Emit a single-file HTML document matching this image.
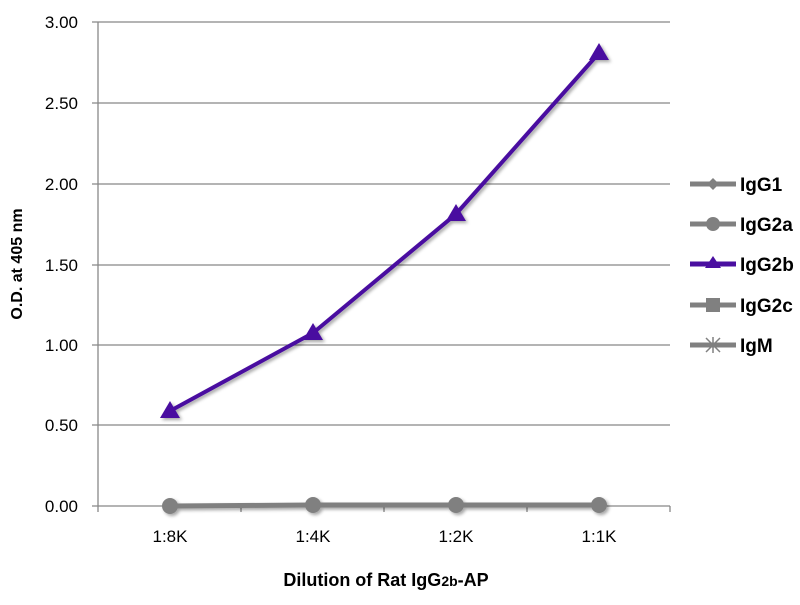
<!DOCTYPE html>
<html><head><style>body{margin:0;background:#fff}</style></head><body>
<svg width="800" height="600" xmlns="http://www.w3.org/2000/svg" font-family="Liberation Sans, sans-serif">
<defs><filter id="s" x="-20%" y="-20%" width="140%" height="140%"><feDropShadow dx="2" dy="2" stdDeviation="1.5" flood-color="#000" flood-opacity="0.35"/></filter></defs>
<g stroke="#888" stroke-width="1.3">
<line x1="92" y1="22" x2="670" y2="22"/><line x1="92" y1="103" x2="670" y2="103"/>
<line x1="92" y1="184" x2="670" y2="184"/><line x1="92" y1="265" x2="670" y2="265"/>
<line x1="92" y1="345" x2="670" y2="345"/><line x1="92" y1="425" x2="670" y2="425"/>
<line x1="92" y1="506" x2="670" y2="506"/><line x1="98" y1="22" x2="98" y2="512"/>
<line x1="241" y1="506" x2="241" y2="512"/><line x1="384" y1="506" x2="384" y2="512"/>
<line x1="527" y1="506" x2="527" y2="512"/><line x1="670" y1="506" x2="670" y2="512"/>
</g>
<g font-size="17" fill="#000" text-anchor="end">
<text x="78" y="28">3.00</text><text x="78" y="109">2.50</text><text x="78" y="190">2.00</text>
<text x="78" y="271">1.50</text><text x="78" y="351">1.00</text><text x="78" y="431">0.50</text><text x="78" y="512">0.00</text>
</g>
<g font-size="17" text-anchor="middle">
<text x="170" y="542">1:8K</text><text x="313" y="542">1:4K</text><text x="456" y="542">1:2K</text><text x="599" y="542">1:1K</text>
</g>
<text x="386" y="586" font-size="18" font-weight="bold" text-anchor="middle">Dilution of Rat IgG<tspan font-size="14">2b</tspan>-AP</text>
<text transform="translate(22,264) rotate(-90)" font-size="16" font-weight="bold" text-anchor="middle">O.D. at 405 nm</text>
<g filter="url(#s)">
<polyline points="170,506 313,505 456,505 599,505" fill="none" stroke="#808080" stroke-width="5"/>
<g fill="#808080"><circle cx="170" cy="506" r="8"/><circle cx="313" cy="505" r="8"/><circle cx="456" cy="505" r="8"/><circle cx="599" cy="505" r="8"/></g>
<polyline points="170,411 313,333 456,214 599,53" fill="none" stroke="#4a0fa0" stroke-width="4"/>
<g fill="#4a0fa0"><polygon points="170,401 160,418 180,418"/><polygon points="313,323 303,340 323,340"/><polygon points="456,204 446,221 466,221"/><polygon points="599,43 589,60 609,60"/></g>
</g>
<g stroke="#808080" stroke-width="5">
<line x1="690" y1="184" x2="736" y2="184"/><line x1="690" y1="224" x2="736" y2="224"/>
<line x1="690" y1="305" x2="736" y2="305"/><line x1="690" y1="345" x2="736" y2="345"/>
</g>
<line x1="690" y1="264" x2="736" y2="264" stroke="#4a0fa0" stroke-width="5"/>
<polygon points="713,178 719,184 713,190 707,184" fill="#808080"/>
<circle cx="713" cy="224" r="7" fill="#808080"/>
<polygon points="713,256 705,268 721,268" fill="#4a0fa0"/>
<rect x="706" y="298" width="14" height="14" fill="#808080"/>
<g stroke="#808080" stroke-width="1.5"><line x1="706" y1="338" x2="720" y2="352"/><line x1="720" y1="338" x2="706" y2="352"/><line x1="713" y1="337" x2="713" y2="353"/></g>
<g font-size="19" font-weight="bold">
<text x="740" y="191">IgG1</text><text x="740" y="231">IgG2a</text><text x="740" y="271">IgG2b</text><text x="740" y="312">IgG2c</text><text x="740" y="352">IgM</text>
</g>
</svg>
</body></html>
